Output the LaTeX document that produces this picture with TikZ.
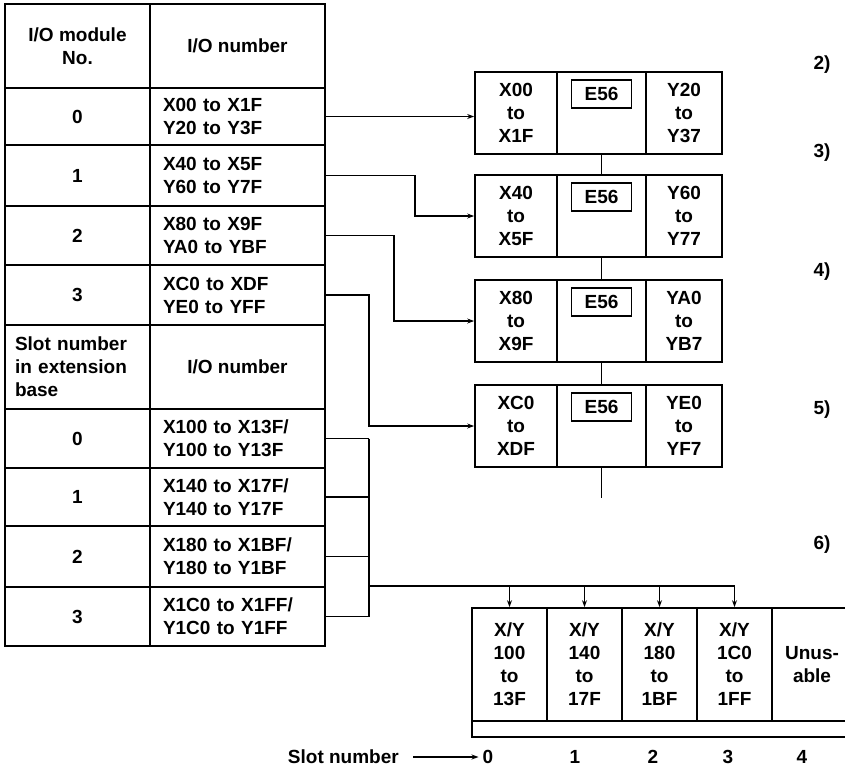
\documentclass[tikz,border=0pt]{standalone}
\usepackage{fontspec}
\setmainfont{Liberation Sans}
\usepackage{tikz}
\usetikzlibrary{positioning, arrows.meta, calc}

\begin{document}
\begin{tikzpicture}[x=1pt, y=-1pt, line width=1.7pt,
    every node/.style={font=\bfseries\fontsize{19}{23}\selectfont},
    cell/.style={draw, rectangle, inner sep=0pt, align=center},
    iocell/.style={cell, text width=149pt, inner xsep=13pt, align=left},
    modcell/.style={cell, minimum height=82},
    slotcell/.style={cell, minimum width=75, minimum height=113},
    arr/.style={-{Stealth[length=7pt, width=5pt]}}]
        \useasboundingbox (0,0) rectangle (845,769);

        % table of I/O numbers
        \node[cell, minimum width=145, minimum height=84] (hno) at (77.5,46) {I/O module\\No.};
        \node[cell, minimum width=175, minimum height=84] (hio) at (237.5,46) {I/O number};
        \foreach \i/\ta/\tb/\ra/\rb in {0/88/145/X00 to X1F/Y20 to Y3F, 1/145/206/X40 to X5F/Y60 to Y7F,
                                        2/206/265/X80 to X9F/YA0 to YBF, 3/265/325/XC0 to XDF/YE0 to YFF} {
          \node[cell, minimum width=145, minimum height=\tb-\ta] (no\i) at (77.5,{(\ta+\tb)/2}) {\i};
          \node[iocell, minimum height=\tb-\ta] (io\i) at (237.5,{(\ta+\tb)/2}) {\ra\\\rb};
        }
        \node[cell, text width=125pt, inner xsep=10pt, align=left, minimum height=84] (hslot) at (77.5,367) {Slot number\\in extension\\base};
        \node[cell, minimum width=175, minimum height=84] (hxio) at (237.5,367) {I/O number};
        \foreach \i/\ta/\tb/\ra/\rb in {0/409/468/{X100 to X13F/}/Y100 to Y13F, 1/468/526/{X140 to X17F/}/Y140 to Y17F,
                                        2/526/587/{X180 to X1BF/}/Y180 to Y1BF, 3/587/646/{X1C0 to X1FF/}/Y1C0 to Y1FF} {
          \node[cell, minimum width=145, minimum height=\tb-\ta] (ex\i) at (77.5,{(\ta+\tb)/2}) {\i};
          \node[iocell, minimum height=\tb-\ta] (xio\i) at (237.5,{(\ta+\tb)/2}) {\ra\\\rb};
        }

        % modules on the main base
        \foreach \i/\yc/\xa/\xb/\ya/\yb in {0/113/X00/X1F/Y20/Y37, 1/216/X40/X5F/Y60/Y77,
                                            2/321/X80/X9F/YA0/YB7, 3/426/XC0/XDF/YE0/YF7} {
          \node[modcell, minimum width=82] (mx\i) at (516,\yc) {\xa\\to\\\xb};
          \node[modcell, minimum width=89] (mc\i) at (601.5,\yc) {};
          \node[modcell, minimum width=76] (my\i) at (684,\yc) {\ya\\to\\\yb};
          \node[cell, minimum width=60, minimum height=28, anchor=north] (led\i) at ([yshift=-8pt]mc\i.north) {E56};
        }
        \draw (mc0.south) -- (mc1.north);
        \draw (mc1.south) -- (mc2.north);
        \draw (mc2.south) -- (mc3.north);
        \draw (mc3.south) -- ++(0,30) coordinate (cable);

        \draw[arr] (io0.east) -- (io0.east -| mx0.west);
        \draw[arr] (io1.east) -- ++(89,0) |- (mx1.west);
        \draw[arr] (io2.east) -- ++(68,0) |- (mx2.west);
        \draw[arr] (io3.east) -- ++(43,0) |- (mx3.west);

        % extension base
        \foreach \i/\xc/\ta/\tb in {0/509.5/100/13F, 1/584.5/140/17F, 2/659.5/180/1BF, 3/734.5/1C0/1FF} {
          \node[slotcell] (s\i) at (\xc,664.5) {X/Y\\\ta\\to\\\tb};
        }
        \node[cell, minimum width=80, minimum height=113] (s4) at (812,664.5) {Unus-\\able};
        \node[cell, minimum width=380, minimum height=16] (base) at (662,729) {};

        \foreach \i in {0,...,3}
          \draw (xio\i.east) -- ++(43,0) coordinate (br\i);
        \draw (br0) -- (br3);
        \draw (br0 |- xio3.north) -- (s3.north |- xio3.north);
        \foreach \i in {0,...,3}
          \draw[arr] (s\i.north |- xio3.north) -- (s\i.north);

        % slot numbers
        \foreach \i/\xc in {0/488, 1/575, 2/653, 3/728, 4/802}
          \node (n\i) at (\xc,757) {\i};
        \node[anchor=east] (slotno) at (403,757) {Slot number};
        \draw[arr, line width=1.2pt] ([xshift=10]slotno.east) -- (n0.west);

        % step labels
        \foreach \i/\yc in {2/65, 3/153, 4/272, 5/410, 6/545}
          \node (r\i) at (822,\yc) {\i)};
      \end{tikzpicture}
\end{document}
